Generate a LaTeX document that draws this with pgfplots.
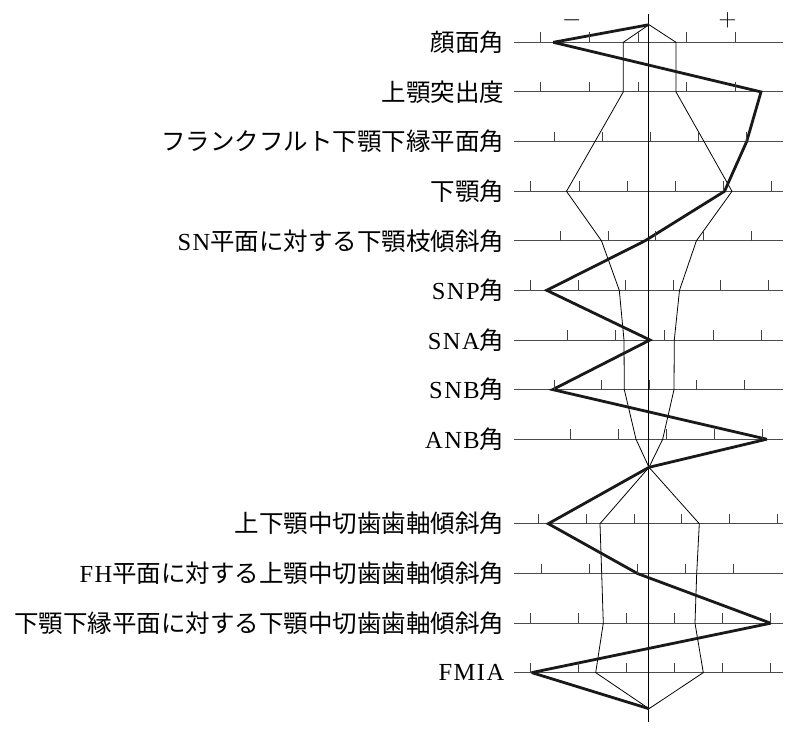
\documentclass[border=0pt]{standalone}
\usepackage{fontspec}
\setmainfont{Liberation Serif}[LetterSpace=6]
\newfontfamily\cjk{Noto Sans CJK JP}
\usepackage{pgfplots}
\pgfplotsset{compat=1.18}
\begin{document}
\begin{tikzpicture}
\begin{axis}[
  scale only axis, width=269pt, height=708pt,
  xmin=-134.5, xmax=134.5, ymin=14, ymax=722, y dir=reverse,
  clip=false,
  axis line style={draw=none},
  xtick=\empty,
  ytick={42.3,91.9,141.5,191.3,240.8,290.3,340,389.6,439.2,523.7,573.6,623.2,672.6},
  yticklabels={
    {\cjk 顔面角},
    {\cjk 上顎突出度},
    {\cjk フランクフルト下顎下縁平面角},
    {\cjk 下顎角},
    {SN\cjk 平面に対する下顎枝傾斜角},
    {SNP\cjk 角},
    {SNA\cjk 角},
    {SNB\cjk 角},
    {ANB\cjk 角},
    {\cjk 上下顎中切歯歯軸傾斜角},
    {FH\cjk 平面に対する上顎中切歯歯軸傾斜角},
    {\cjk 下顎下縁平面に対する下顎中切歯歯軸傾斜角},
    {FMIA}},
  yticklabel style={font=\fontsize{24.5}{28}\selectfont, inner sep=0pt, xshift=-10pt},
  major tick length=0pt,
  ymajorgrids, major grid style={black!70, line width=0.9pt},
]
% scale ticks on each row
\addplot[only marks, mark=|, mark size=5pt, black!75,
  mark options={yshift=5pt, line width=1pt}] coordinates {
  (-108.3,42.3) (-59.7,42.3) (-10.7,42.3) (37.7,42.3) (86.7,42.3)
  (-108.3,91.9) (-59.7,91.9) (-10.7,91.9) (37.7,91.9) (86.7,91.9)
  (-94.7,141.5) (-46.3,141.5) (1.7,141.5) (49.7,141.5) (98,141.5)
  (-118.3,191.3) (-69.7,191.3) (-21.3,191.3) (26.7,191.3) (75,191.3) (123,191.3)
  (-88.3,240.8) (-40.7,240.8) (7,240.8) (55,240.8) (103,240.8)
  (-118,290.3) (-70.7,290.3) (-23,290.3) (24.7,290.3) (72,290.3) (119.3,290.3)
  (-81.7,340) (-33,340) (15.7,340) (64.3,340) (113,340)
  (-94.7,389.6) (-47,389.6) (0.3,389.6) (48,389.6) (95.7,389.6)
  (-78,439.2) (-30,439.2) (17.7,439.2) (65.7,439.2) (113.7,439.2)
  (-110.7,523.7) (-62.7,523.7) (-14.7,523.7) (32.7,523.7) (80.3,523.7) (128.3,523.7)
  (-107,573.6) (-59,573.6) (-11.3,573.6) (36.3,573.6) (84.3,573.6)
  (-118,623.2) (-70,623.2) (-22,623.2) (25.7,623.2) (73.7,623.2) (121.3,623.2)
  (-118,672.6) (-70,672.6) (-22,672.6) (25.7,672.6) (73.7,672.6) (121.3,672.6)
};
% centre line
\addplot[black, line width=1pt] coordinates {(0,14) (0,722)};
% norm band, minus side
\addplot[black, line width=0.8pt] coordinates {
  (0,24.7) (-25.7,42.3) (-25.7,91.9) (-54,141.5) (-82.5,191.3) (-47.5,240.8)
  (-29.7,290.3) (-25,340) (-24.7,389.6) (-13,439.2) (0,467.3)
  (-49,523.7) (-47.3,573.6) (-45.7,623.2) (-53.3,672.6) (0,708.7)};
% norm band, plus side
\addplot[black, line width=0.8pt] coordinates {
  (0,24.7) (27,42.3) (27,91.9) (55,141.5) (83,191.3) (47.4,240.8)
  (30.5,290.3) (25.3,340) (25,389.6) (13.7,439.2) (0,467.3)
  (50.3,523.7) (47.7,573.6) (46,623.2) (54.3,672.6) (0,708.7)};
% patient
\addplot[black!90, line width=2.8pt, line join=miter, miter limit=3] coordinates {
  (0,24.7) (-95.7,42.3) (112,91.9) (97.7,141.5) (75.5,191.3) (-4,240.8)
  (-102.3,290.3) (1,340) (-96.3,389.6) (117.7,439.2) (0,467.3)
  (-100.7,523.7) (-11.3,573.6) (121.7,623.2) (-117.3,672.6) (0,708.7)};
\node[font=\fontsize{24}{26}\selectfont, inner sep=0pt] at (axis cs:-77.3,20) {$-$};
\node[font=\fontsize{24}{26}\selectfont, inner sep=0pt] at (axis cs:78.7,20) {$+$};
\path (axis cs:-649,0) rectangle (axis cs:148,736);
\end{axis}
\end{tikzpicture}
\end{document}
